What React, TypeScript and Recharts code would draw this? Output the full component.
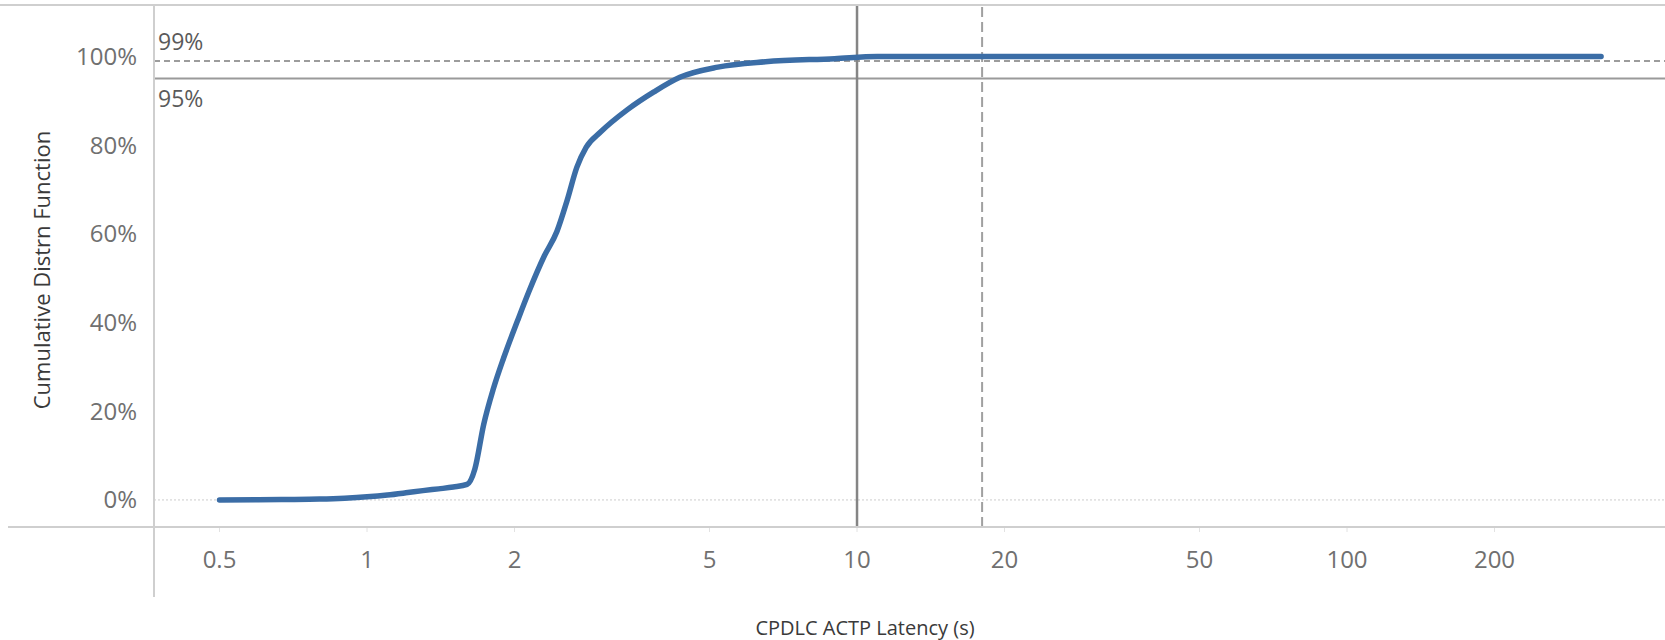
import { LineChart, Line, XAxis, YAxis, ReferenceLine } from "recharts"

// latency (s) on a log axis, cumulative share of messages (%)
const LATENCY_S = [
  0.5, 0.6, 0.7, 0.8, 0.9, 1.0, 1.1, 1.2, 1.3, 1.4, 1.5, 1.6, 1.66, 1.73, 1.81, 1.9, 2.03,
  2.14, 2.3, 2.44, 2.56, 2.68, 2.8, 3.0, 3.4, 3.85, 4.35, 5.2, 6.5, 9, 11, 20, 50, 100, 200, 330,
]
const CDF_PCT = [
  0, 0.05, 0.1, 0.2, 0.4, 0.7, 1.1, 1.6, 2.1, 2.5, 2.9, 3.5, 7, 17, 25, 32, 40.5,
  47, 55, 60.5, 67.5, 75, 79.5, 83, 88, 92, 95.3, 97.6, 98.8, 99.5, 100, 100, 100, 100, 100, 100,
]

const X_TICKS = [0.5, 1, 2, 5, 10, 20, 50, 100, 200]
const Y_TICKS = [0, 20, 40, 60, 80, 100]

// reference lines
const LIMIT_95 = 95
const LIMIT_99 = 99
const LATENCY_SOLID = 10
const LATENCY_DASHED = 18

const rows = LATENCY_S.map((latency, i) => ({ latency, cdf: CDF_PCT[i] }))

const FONT = '"Open Sans", sans-serif'
const FRAME = "#cfcfcf"

function XTitle({ viewBox }: any) {
  return (
    <text
      x={viewBox.x + 711}
      y={viewBox.y + 100}
      textAnchor="middle"
      dominantBaseline="central"
      fill="#3a3a3a"
      fontSize={20}
      fontFamily={FONT}
    >
      CPDLC ACTP Latency (s)
    </text>
  )
}

function YTitle({ viewBox }: any) {
  const cx = viewBox.x + 41
  const cy = viewBox.y + viewBox.height / 2 + 4
  return (
    <text
      x={cx}
      y={cy}
      transform={`rotate(-90 ${cx} ${cy})`}
      textAnchor="middle"
      dominantBaseline="central"
      fill="#3a3a3a"
      fontSize={22}
      fontFamily={FONT}
    >
      Cumulative Distrn Function
    </text>
  )
}

function refLabel(text: string, above: boolean) {
  return ({ viewBox }: any) => (
    <text
      x={viewBox.x + 4}
      y={above ? viewBox.y - 11 : viewBox.y + 28}
      fill="#5a5a5a"
      fontSize={23}
      fontFamily={FONT}
    >
      {text}
    </text>
  )
}

export default function App() {
  return (
    <div style={{ position: "relative", width: 1665, height: 640, fontFamily: FONT, background: "#fff" }}>
      <style>{`body { margin: 0; }`}</style>
      <LineChart width={1665} height={640} data={rows} margin={{ top: 5, right: 0, bottom: 0, left: 0 }}>
        <XAxis
          dataKey="latency"
          type="number"
          scale="log"
          domain={[0.3675, 445.6]}
          allowDataOverflow
          ticks={X_TICKS}
          interval={0}
          tickFormatter={(v) => String(v)}
          height={113}
          axisLine={false}
          tickLine={{ stroke: "#e2e2e2" }}
          tickSize={5}
          tickMargin={19}
          tick={{ fill: "#707070", fontSize: 24, fontFamily: FONT }}
          label={XTitle}
        />
        <YAxis
          type="number"
          domain={[-6.1, 111.6]}
          allowDataOverflow
          ticks={Y_TICKS}
          interval={0}
          tickFormatter={(v) => `${v}%`}
          width={154}
          axisLine={false}
          tickLine={false}
          tickMargin={11}
          tick={{ fill: "#707070", fontSize: 24, fontFamily: FONT }}
          label={YTitle}
        />
        <ReferenceLine y={0} stroke="#cccccc" strokeDasharray="2 2" strokeWidth={1} />
        <ReferenceLine y={LIMIT_99} stroke="#9c9c9c" strokeWidth={2} strokeDasharray="6 4" label={refLabel("99%", true)} />
        <ReferenceLine y={LIMIT_95} stroke="#9a9a9a" strokeWidth={2} label={refLabel("95%", false)} />
        <ReferenceLine x={LATENCY_SOLID} stroke="#858585" strokeWidth={2.5} />
        <ReferenceLine x={LATENCY_DASHED} stroke="#a0a0a0" strokeWidth={2} strokeDasharray="10 5" />
        <Line
          type="monotone"
          dataKey="cdf"
          stroke="#3b6da6"
          strokeWidth={5.5}
          strokeLinecap="round"
          dot={false}
          activeDot={false}
          isAnimationActive={false}
        />
      </LineChart>
      <div style={{ position: "absolute", left: 0, top: 4, width: 1665, height: 2, background: FRAME }} />
      <div style={{ position: "absolute", left: 8, top: 526, width: 1657, height: 2, background: FRAME }} />
      <div style={{ position: "absolute", left: 153, top: 5, width: 2, height: 592, background: FRAME }} />
    </div>
  )
}
